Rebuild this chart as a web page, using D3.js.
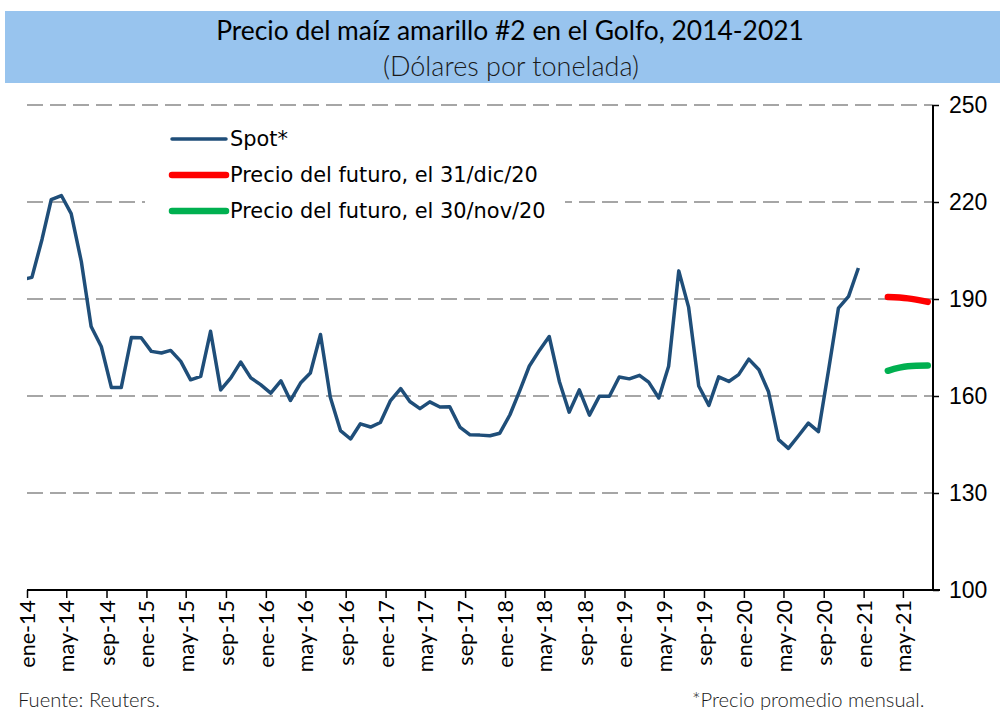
<!DOCTYPE html>
<html>
<head>
<meta charset="utf-8">
<script src="https://cdn.jsdelivr.net/npm/d3@7"></script>
<style>
  body { margin: 0; background: #fff; }
</style>
</head>
<body>
<script>
// monthly spot price, dic-13 .. dic-20 (USD/t)
let spotStart = new Date(2013, 11, 1);
let spotValues = [
    196.0,
    196.7, 208.5, 220.7, 222.0, 216.4, 201.6, 181.5, 175.3, 162.6, 162.6, 178.1, 178.0,
    173.8, 173.3, 174.1, 170.7, 165.0, 166.1, 180.0, 161.9, 165.6, 170.5, 165.6, 163.5,
    160.9, 164.7, 158.6, 164.0, 167.1, 179.0, 159.6, 149.3, 146.7, 151.4, 150.4, 151.8,
    158.6, 162.3, 158.3, 156.1, 158.2, 156.6, 156.7, 150.4, 148.0, 147.9, 147.7, 148.5,
    154.2, 161.9, 169.2, 174.1, 178.4, 164.5, 155.0, 161.9, 154.1, 159.9, 159.9, 165.9,
    165.3, 166.4, 164.3, 159.4, 169.2, 198.7, 187.5, 163.1, 157.1, 165.9, 164.5, 166.6,
    171.4, 168.1, 161.4, 146.5, 143.8, 147.7, 151.6, 149.0, 168.1, 187.2, 190.8, 199.6
];

// futures contracts: mar-21, may-21, jul-21
let futureMonths = [new Date(2021, 2, 1), new Date(2021, 4, 1), new Date(2021, 6, 1)];
let futureDec = [190.6, 190.2, 189.1];
let futureNov = [167.8, 169.2, 169.4];

let tickLabels = [
    "ene-14", "may-14", "sep-14", "ene-15", "may-15", "sep-15", "ene-16", "may-16",
    "sep-16", "ene-17", "may-17", "sep-17", "ene-18", "may-18", "sep-18", "ene-19",
    "may-19", "sep-19", "ene-20", "may-20", "sep-20", "ene-21", "may-21"
];
let yTicks = [100, 130, 160, 190, 220, 250];

let legendItems = [
    { label: "Spot*", color: "#1f4e79", width: 3.5 },
    { label: "Precio del futuro, el 31/dic/20", color: "#ff0000", width: 6.5 },
    { label: "Precio del futuro, el 30/nov/20", color: "#00b050", width: 6.5 }
];

let SvgWidth = 1000;
let SvgHeight = 710;

let Svg = d3.select("body")
    .append("svg")
    .attr("width", SvgWidth)
    .attr("height", SvgHeight)
    .style("display", "block");

// title banner
Svg.append("rect")
    .attr("x", 5)
    .attr("y", 11)
    .attr("width", SvgWidth - 5)
    .attr("height", 72)
    .attr("fill", "#98c4ee");

Svg.append("text")
    .attr("x", 510)
    .attr("y", 40)
    .attr("text-anchor", "middle")
    .style("font-family", "Lato, 'Open Sans', sans-serif")
    .style("font-size", "26.4px")
    .attr("fill", "#000")
    .text("Precio del maíz amarillo #2 en el Golfo, 2014-2021");

Svg.append("text")
    .attr("x", 511)
    .attr("y", 76)
    .attr("text-anchor", "middle")
    .style("font-family", "Lato, 'Open Sans', sans-serif")
    .style("font-size", "27px")
    .style("font-weight", 300)
    .attr("fill", "#1a1a1a")
    .text("(Dólares por tonelada)");

let Left = 27, Right = 933, Top = 105, Bottom = 590;

let xScale = d3.scaleTime()
    .domain([new Date(2014, 0, 1), new Date(2021, 7, 1)])
    .range([Left, Right]);

let yScale = d3.scaleLinear()
    .domain([100, 250])
    .range([Bottom, Top]);

// points sit in the middle of their month
let midMonth = d => d3.timeDay.offset(d, 15);

// gridlines
Svg.append("g")
    .selectAll("line")
    .data(yTicks.filter(v => v > 100))
    .enter()
    .append("line")
    .attr("x1", Left)
    .attr("x2", Right)
    .attr("y1", d => yScale(d))
    .attr("y2", d => yScale(d))
    .attr("stroke", "#a6a6a6")
    .attr("stroke-width", 2)
    .attr("stroke-dasharray", "16,7");

// right axis
let RightAxis = d3.axisRight(yScale)
    .tickValues(yTicks)
    .tickSize(6)
    .tickPadding(10);

let rightG = Svg.append("g")
    .attr("transform", `translate(${Right},0)`)
    .call(RightAxis);
rightG.select(".domain").attr("stroke", "#000").attr("stroke-width", 2).attr("d", `M0,${Top}V${Bottom}`);
rightG.selectAll(".tick line").attr("stroke", "#000").attr("stroke-width", 1.5);
rightG.selectAll("text")
    .style("font-family", "'Liberation Sans', Arial, sans-serif")
    .style("font-size", "23px")
    .attr("fill", "#000");

// bottom axis
let tickDates = tickLabels.map((t, i) => d3.timeMonth.offset(new Date(2014, 0, 1), i * 4));
let BottomAxis = d3.axisBottom(xScale)
    .tickValues(tickDates)
    .tickSize(8)
    .tickFormat((d, i) => tickLabels[i]);

let bottomG = Svg.append("g")
    .attr("transform", `translate(0,${Bottom})`)
    .call(BottomAxis);
bottomG.select(".domain").attr("stroke", "#000").attr("stroke-width", 2).attr("d", `M${Left},0H${Right + 7}`);
bottomG.selectAll(".tick line").attr("stroke", "#000").attr("stroke-width", 1.5);
bottomG.selectAll("text")
    .attr("transform", "rotate(-90)")
    .attr("text-anchor", "end")
    .attr("x", -10)
    .attr("y", 0)
    .attr("dy", "0.35em")
    .style("font-family", "Lato, 'Open Sans', sans-serif")
    .style("font-size", "21.5px")
    .attr("fill", "#000");

// clip to plot area
Svg.append("clipPath")
    .attr("id", "plot")
    .append("rect")
    .attr("x", Left)
    .attr("y", Top - 10)
    .attr("width", Right - Left)
    .attr("height", Bottom - Top + 10);

let spotData = spotValues.map((v, i) => ({ date: d3.timeMonth.offset(spotStart, i), value: v }));

let line = d3.line()
    .x(d => xScale(midMonth(d.date)))
    .y(d => yScale(d.value));

Svg.append("path")
    .datum(spotData)
    .attr("clip-path", "url(#plot)")
    .attr("d", line)
    .attr("fill", "none")
    .attr("stroke", legendItems[0].color)
    .attr("stroke-width", legendItems[0].width)
    .attr("stroke-linejoin", "round");

[futureDec, futureNov].forEach(function (vals, k) {
    Svg.append("path")
        .datum(vals.map((v, i) => ({ date: futureMonths[i], value: v })))
        .attr("d", line.curve(d3.curveMonotoneX))
        .attr("fill", "none")
        .attr("stroke", legendItems[k + 1].color)
        .attr("stroke-width", legendItems[k + 1].width)
        .attr("stroke-linecap", "round");
    line.curve(d3.curveLinear);
});

// legend
let legend = Svg.append("g");
legend.append("rect")
    .attr("x", 145)
    .attr("y", 118)
    .attr("width", 420)
    .attr("height", 108)
    .attr("fill", "#fff");

legendItems.forEach(function (d, i) {
    let y = 139 + i * 36;
    legend.append("line")
        .attr("x1", 172)
        .attr("x2", 226)
        .attr("y1", y)
        .attr("y2", y)
        .attr("stroke", d.color)
        .attr("stroke-width", d.width)
        .attr("stroke-linecap", "round");
    legend.append("text")
        .attr("x", 230)
        .attr("y", y + 7)
        .style("font-family", "'DejaVu Sans', Verdana, sans-serif")
        .style("font-size", "20.9px")
        .attr("fill", "#000")
        .text(d.label);
});

// footnotes
Svg.append("text")
    .attr("x", 18)
    .attr("y", 707)
    .style("font-family", "Lato, 'Open Sans', sans-serif")
    .style("font-size", "20.2px")
    .style("font-weight", 300)
    .attr("fill", "#1a1a1a")
    .text("Fuente: Reuters.");

Svg.append("text")
    .attr("x", 692)
    .attr("y", 707)
    .style("font-family", "Lato, 'Open Sans', sans-serif")
    .style("font-size", "20.2px")
    .style("font-weight", 300)
    .attr("fill", "#1a1a1a")
    .text("*Precio promedio mensual.");
</script>
</body>
</html>
